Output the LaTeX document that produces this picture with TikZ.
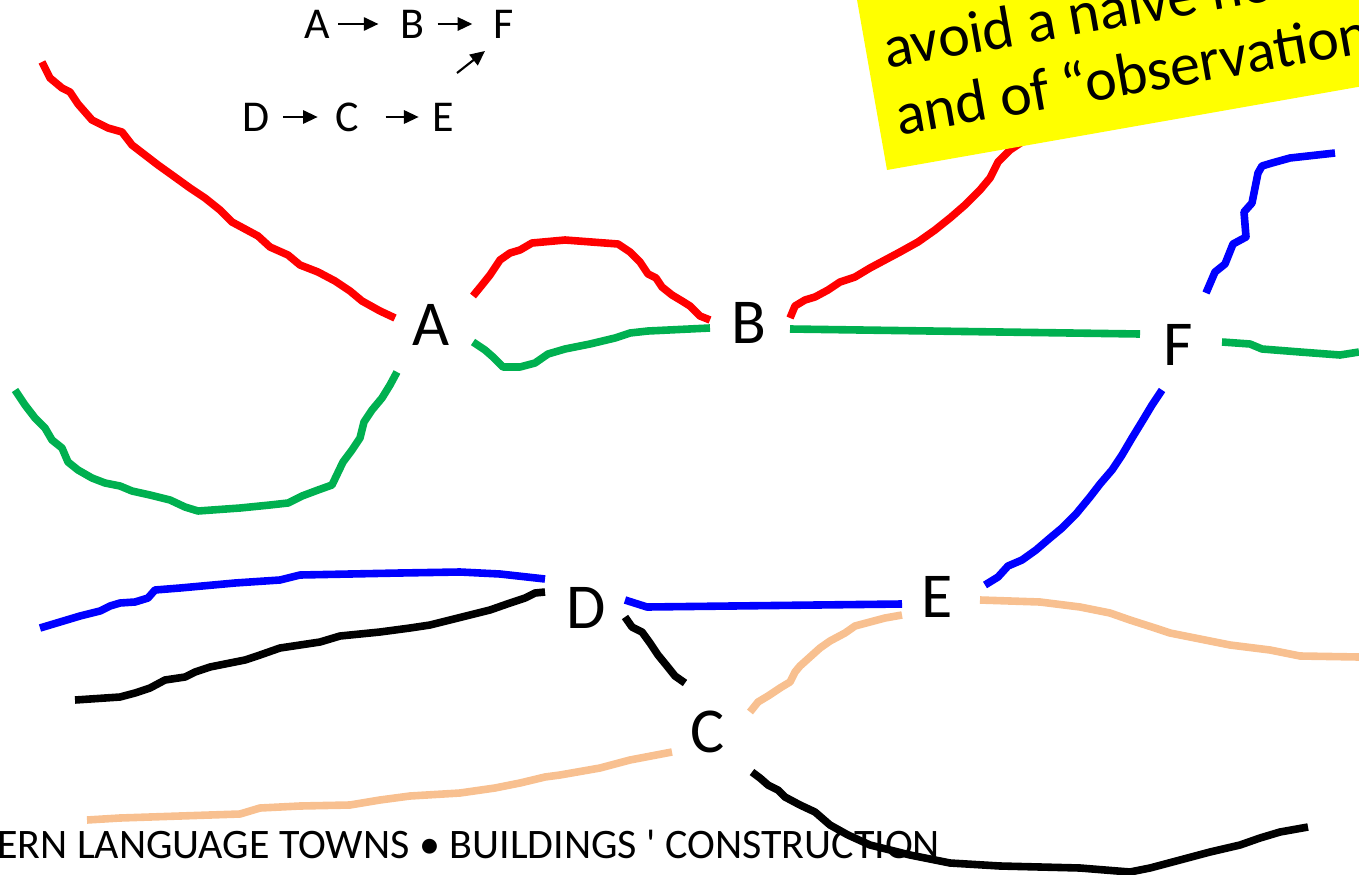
\documentclass[tikz,border=0pt]{standalone}
\usepackage{fontspec}
\setmainfont{Carlito}
\usetikzlibrary{arrows.meta,calc}
\definecolor{pgreen}{HTML}{00B050}
\definecolor{peach}{HTML}{F8C090}
\definecolor{yel}{HTML}{FFFF00}
\begin{document}
\begin{tikzpicture}[x=0.75pt,y=-0.75pt,
  pen/.style={line width=5.7pt,line join=round},
  big/.style={inner sep=0pt,font=\fontsize{48}{58}\selectfont},
  small/.style={inner sep=0pt,font=\fontsize{33}{40}\selectfont},
  yt/.style={inner sep=0pt,font=\fontsize{45}{54}\selectfont,rotate=10,anchor=base west},
  arr/.style={line width=1.6pt,-{Triangle[length=11pt,width=10pt]}}]
\useasboundingbox (0,0) rectangle (1359,874);
\clip (0,0) rectangle (1359,874);

% big labels
\node[big] (A) at (431,325) {A};
\node[big] (B) at (749,323) {B};
\node[big] (F) at (1178,345) {F};
\node[big] (D) at (586,608) {D};
\node[big] (E) at (937,597) {E};
\node[big] (C) at (708,732) {C};

% red
\draw[pen,red] (42,62) -- (50,78) -- (62,88) -- (70,92) -- (78,104) -- (92,120) -- (108,128) -- (122,132) -- (132,145) -- (145,155) -- (158,165) -- (172,175) -- (190,188) -- (205,198) -- (220,210) -- (232,222) -- (245,229) -- (258,236) -- (270,247) -- (288,255) -- (300,265) -- (318,272) -- (335,281) -- (350,291) -- (362,301) -- (380,311) -- (395,318);
\draw[pen,red] (473,296) -- (482,285) -- (490,275) -- (500,260) -- (510,253) -- (520,250) -- (532,243) -- (565,240) -- (618,244) -- (630,252) -- (640,262) -- (648,274) -- (656,278) -- (662,287) -- (672,295) -- (682,301) -- (690,306) -- (700,316) -- (710,320);
\draw[pen,red] (790,318) -- (795,306) -- (805,300) -- (815,297) -- (828,290) -- (840,282) -- (855,277) -- (870,268) -- (885,260) -- (900,252) -- (918,242) -- (935,230) -- (950,218) -- (965,205) -- (980,190) -- (990,178) -- (998,162) -- (1010,150) -- (1022,142) -- (1040,125);

% yellow note
\begin{scope}[shift={(887,170)},rotate=10]
  \fill[yel] (0,0) rectangle (900,-320);
  \node[yt] (y2) at (18,-32) {and of “observation};
  \node[yt] (y1) at (18,-100) {avoid a naive no};
\end{scope}

% green
\draw[pen,pgreen] (397,372) -- (390,385) -- (382,398) -- (372,410) -- (364,422) -- (360,438) -- (352,450) -- (343,462) -- (332,485) -- (318,490) -- (302,496) -- (288,503) -- (270,505) -- (240,508) -- (198,511) -- (185,507) -- (170,500) -- (150,495) -- (132,491) -- (120,486) -- (105,483) -- (92,478) -- (78,470) -- (68,462) -- (62,448) -- (52,440) -- (45,428) -- (35,418) -- (25,405) -- (15,390);
\draw[pen,pgreen] (473,342) -- (485,350) -- (493,357) -- (503,367) -- (520,367) -- (535,363) -- (548,354) -- (565,349) -- (590,344) -- (615,338) -- (630,333) -- (648,331) -- (710,328);
\draw[pen,pgreen] (790,329) -- (1140,334);
\draw[pen,pgreen] (1222,342) -- (1250,344) -- (1262,349) -- (1300,352) -- (1340,355) -- (1359,352);

% blue
\draw[pen,blue] (1206,293) -- (1215,272) -- (1225,264) -- (1233,244) -- (1246,237) -- (1244,212) -- (1252,203) -- (1258,173) -- (1262,166) -- (1272,163) -- (1290,158) -- (1335,153);
\draw[pen,blue] (1162,390) -- (1152,405) -- (1143,420) -- (1132,438) -- (1122,455) -- (1112,470) -- (1100,484) -- (1090,497) -- (1076,514) -- (1062,528) -- (1050,538) -- (1036,550) -- (1022,560) -- (1008,566) -- (998,577) -- (985,585);
\draw[pen,blue] (40,628) -- (60,622) -- (80,616) -- (100,611) -- (110,606) -- (120,603) -- (135,602) -- (148,598) -- (155,590) -- (180,588) -- (235,583) -- (280,580) -- (300,575) -- (400,573) -- (460,572) -- (500,574) -- (545,579);
\draw[pen,blue] (625,600) -- (647,607) -- (902,604);

% peach
\draw[pen,peach] (750,712) -- (758,702) -- (768,696) -- (780,688) -- (790,682) -- (795,672) -- (800,666) -- (810,657) -- (820,648) -- (830,641) -- (845,633) -- (855,626) -- (870,622) -- (885,618) -- (902,615);
\draw[pen,peach] (980,600) -- (1040,602) -- (1080,607) -- (1110,613) -- (1130,620) -- (1155,628) -- (1170,633) -- (1190,637) -- (1230,645) -- (1270,650) -- (1300,656) -- (1359,657);
\draw[pen,peach] (87,820) -- (120,818) -- (180,816) -- (240,814) -- (260,808) -- (300,806) -- (350,805) -- (380,800) -- (410,796) -- (460,793) -- (495,788) -- (520,783) -- (545,777) -- (560,775) -- (600,768) -- (630,760) -- (672,752);

% bottom caption
\node[inner sep=0pt,anchor=base west,font=\fontsize{31.5}{38}\selectfont] (cap) at (-3,858) {ERN LANGUAGE TOWNS • BUILDINGS \textquotesingle{} CONSTRUCTION};

% black
\draw[pen,black] (75,700) -- (120,697) -- (135,693) -- (150,688) -- (165,680) -- (185,677) -- (195,672) -- (210,667) -- (230,663) -- (245,660) -- (260,655) -- (280,648) -- (300,645) -- (320,642) -- (340,636) -- (380,632) -- (410,628) -- (430,625) -- (450,620) -- (470,615) -- (490,610) -- (510,603) -- (525,598) -- (535,593) -- (545,592);
\draw[pen,black] (625,617) -- (632,627) -- (642,632) -- (650,643) -- (658,655) -- (667,666) -- (675,676) -- (685,683);
\draw[pen,black] (752,772) -- (760,778) -- (768,785) -- (778,790) -- (785,797) -- (800,805) -- (815,812) -- (830,825) -- (848,835) -- (870,845) -- (890,850) -- (910,855) -- (950,863) -- (1000,866) -- (1080,868) -- (1130,872) -- (1150,868) -- (1180,860) -- (1210,852) -- (1240,845) -- (1260,838) -- (1280,832) -- (1308,827);

% small graph
\node[small] (sA) at (317,24) {A};
\node[small] (sB) at (412,24) {B};
\node[small] (sF) at (504,24) {F};
\node[small] (sD) at (256,117) {D};
\node[small] (sC) at (347,117) {C};
\node[small] (sE) at (443,117) {E};
\draw[arr,shorten <=6pt,shorten >=16pt] (sA) -- (sB);
\draw[arr,shorten <=10pt,shorten >=16pt] (sB) -- (sF);
\draw[arr,shorten <=10pt,shorten >=13pt] (sD) -- (sC);
\draw[arr,shorten <=20pt,shorten >=10pt] (sC) -- (sE);
\draw[arr] ($(sE)+(14,-44)$) -- ($(sF)+(-19,27)$);
\end{tikzpicture}
\end{document}
